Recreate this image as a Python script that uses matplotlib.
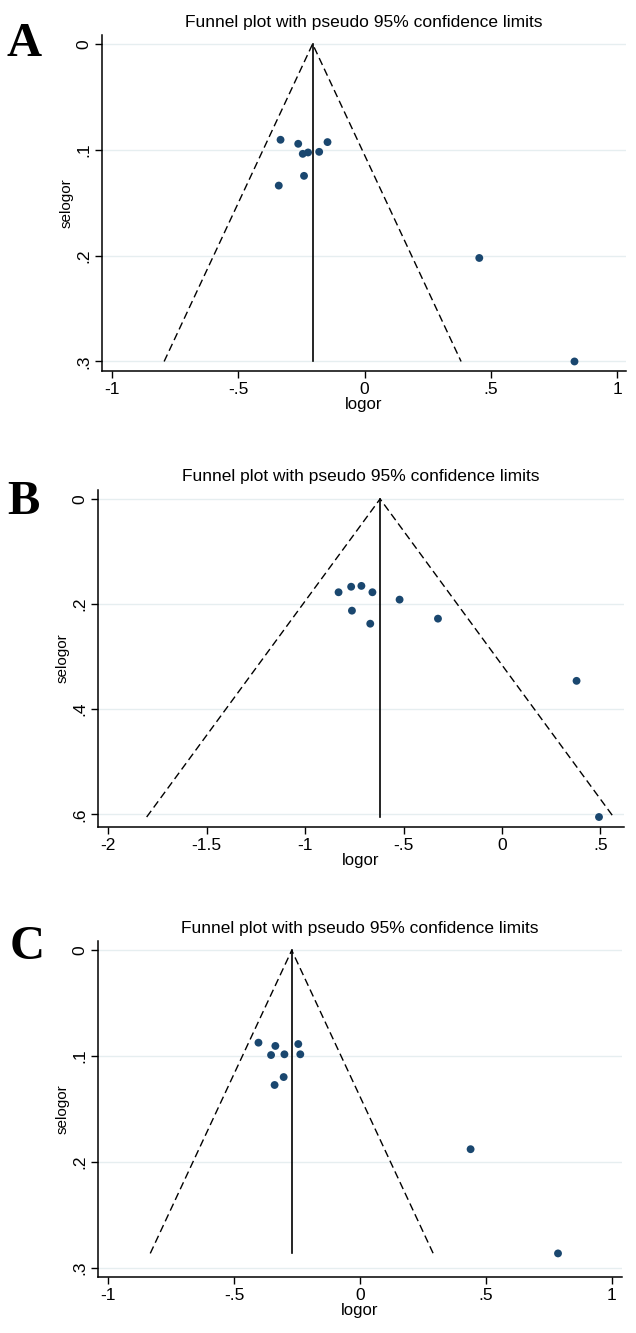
import matplotlib
matplotlib.use("Agg")
import matplotlib.pyplot as plt
from matplotlib.ticker import FuncFormatter, FixedLocator
import numpy as np

# ---------------- data ----------------
panel_labels = ["A", "B", "C"]
title_text = "Funnel plot with pseudo 95% confidence limits"

logor_A = [-0.333, -0.263, -0.147, -0.245, -0.224, -0.180, -0.240, -0.340, 0.454, 0.831]
selogor_A = [0.0905, 0.0943, 0.0927, 0.1038, 0.1025, 0.1019, 0.1246, 0.1338, 0.2022, 0.300]
pooled_A = -0.206

logor_B = [-0.830, -0.766, -0.714, -0.658, -0.520, -0.762, -0.669, -0.325, 0.379, 0.493]
selogor_B = [0.1775, 0.167, 0.1654, 0.1775, 0.1915, 0.2125, 0.2373, 0.2277, 0.346, 0.605]
pooled_B = -0.619

logor_C = [-0.403, -0.336, -0.245, -0.353, -0.300, -0.237, -0.303, -0.339, 0.439, 0.786]
selogor_C = [0.0873, 0.0904, 0.0886, 0.099, 0.0983, 0.0983, 0.1198, 0.1273, 0.188, 0.2865]
pooled_C = -0.271

xticks_A = [-1, -0.5, 0, 0.5, 1]
yticks_A = [0, 0.1, 0.2, 0.3]
xticks_B = [-2, -1.5, -1, -0.5, 0, 0.5]
yticks_B = [0, 0.2, 0.4, 0.6]
xticks_C = [-1, -0.5, 0, 0.5, 1]
yticks_C = [0, 0.1, 0.2, 0.3]

# --------------- layout ---------------
W, H = 636, 1333
fig = plt.figure(figsize=(W / 100, H / 100), dpi=100)
fig.patch.set_facecolor("white")

FONT = ["Liberation Sans", "DejaVu Sans"]
NAVY = "#1a476f"
GRID = "#e6eef0"

def stata_fmt(v, pos=None):
    if abs(v) < 1e-9:
        return "0"
    s = ("%g" % v)
    if s.startswith("0."):
        s = s[1:]
    elif s.startswith("-0."):
        s = "-" + s[2:]
    return s

panels = [
    dict(x=logor_A, y=selogor_A, c=pooled_A, xt=xticks_A, yt=yticks_A,
         box=(102, 626, 35, 371), xlim=(-1.04, 1.035), ylim=(0.309, -0.0085),
         lab=(7, 56), title_y=22),
    dict(x=logor_B, y=selogor_B, c=pooled_B, xt=xticks_B, yt=yticks_B,
         box=(98, 624, 490, 827), xlim=(-2.052, 0.62), ylim=(0.624, -0.017),
         lab=(7, 514), title_y=476),
    dict(x=logor_C, y=selogor_C, c=pooled_C, xt=xticks_C, yt=yticks_C,
         box=(98, 622, 941, 1277), xlim=(-1.04, 1.04), ylim=(0.3088, -0.0088),
         lab=(10, 959), title_y=929),
]

for lbl, p in zip(panel_labels, panels):
    l, r, t, b = p["box"]
    ax = fig.add_axes([l / W, 1 - b / H, (r - l) / W, (b - t) / H])
    ax.set_xlim(*p["xlim"])
    ax.set_ylim(*p["ylim"])
    for s in ["top", "right"]:
        ax.spines[s].set_visible(False)
    for s in ["left", "bottom"]:
        ax.spines[s].set_linewidth(1.1)
        ax.spines[s].set_color("black")
    ax.xaxis.set_major_locator(FixedLocator(p["xt"]))
    ax.yaxis.set_major_locator(FixedLocator(p["yt"]))
    ax.xaxis.set_major_formatter(FuncFormatter(stata_fmt))
    ax.yaxis.set_major_formatter(FuncFormatter(stata_fmt))
    ax.tick_params(axis="both", direction="out", length=5, width=1, labelsize=12.5, pad=3)
    for tl in ax.get_yticklabels():
        tl.set_rotation(90)
        tl.set_va("center")
        tl.set_family(FONT)
    for tl in ax.get_xticklabels():
        tl.set_family(FONT)
    ax.grid(axis="y", color=GRID, linewidth=1.0)
    ax.set_axisbelow(True)

    # funnel: pooled estimate +/- 1.96 * se, up to the largest se
    se_max = max(p["y"])
    c = p["c"]
    ax.plot([c - 1.96 * se_max, c, c + 1.96 * se_max], [se_max, 0, se_max],
            color="black", linestyle=(0, (5.5, 3)), linewidth=1.0, zorder=2)
    ax.plot([c, c], [0, se_max], color="black", linewidth=1.2, zorder=2)
    ax.scatter(p["x"], p["y"], s=32, color=NAVY, edgecolors="none", zorder=3,
               clip_on=False)

    ax.set_xlabel("logor", fontsize=12, family=FONT, labelpad=0)
    ax.set_ylabel("selogor", fontsize=11, family=FONT, labelpad=2)
    fig.text((l + r) / 2 / W, 1 - p["title_y"] / H, title_text, ha="center", va="center",
             fontsize=12.5, family=FONT)
    fig.text(p["lab"][0] / W, 1 - p["lab"][1] / H, lbl, ha="left", va="baseline",
             fontsize=35, fontweight="bold", family=["Liberation Serif", "DejaVu Serif"])

fig.savefig("out.png", dpi=100, facecolor="white")
